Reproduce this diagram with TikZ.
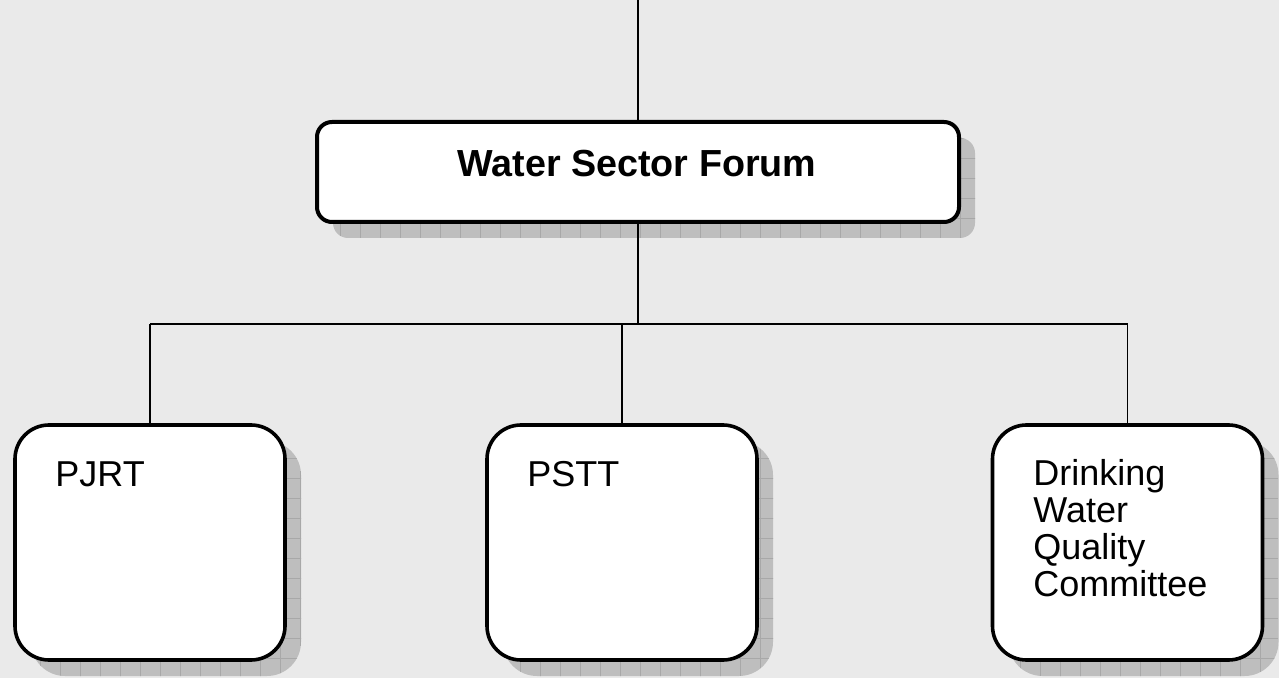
\documentclass[tikz,border=0pt]{standalone}
\usepackage{fontspec}
\setmainfont{Liberation Sans}
\usetikzlibrary{positioning,shadows,patterns.meta}
\definecolor{PageGray}{RGB}{234,234,234}
\definecolor{ShadowGray}{RGB}{190,190,190}
\definecolor{GridGray}{RGB}{168,168,168}

\begin{document}
\begin{tikzpicture}[x=0.5pt,y=0.5pt,yscale=-1,xscale=1,
		boxshadow/.style={drop shadow={shadow xshift=8pt, shadow yshift=-8pt, fill=ShadowGray, opacity=1,
			postaction={pattern={Lines[distance=10pt, angle=0, line width=0.4pt]}, pattern color=GridGray},
			postaction={pattern={Lines[distance=10pt, angle=90, line width=0.4pt]}, pattern color=GridGray}}},
		forumbox/.style={draw=black, line width=2pt, fill=white, rounded corners=7.5pt, minimum width=321pt, minimum height=50pt, inner sep=0pt, boxshadow},
		unitbox/.style={draw=black, line width=1.8pt, fill=white, rounded corners=17pt, minimum width=135pt, minimum height=117.5pt, inner sep=0pt, boxshadow},
		wire/.style={draw=black, line width=0.9pt},
		boldlabel/.style={inner sep=0pt, font=\fontsize{18.85}{22}\selectfont\bfseries},
		plainlabel/.style={inner sep=0pt, font=\fontsize{18}{18.5}\selectfont, align=left}]
		% page background, sets the picture size
		\fill[PageGray] (0,0) rectangle (1279,678);
		\useasboundingbox (0,0) rectangle (1279,678);

		% the boxes
		\node[forumbox] (forum) at (638,172) {};
		\node[unitbox] (pjrt) at (150,542.5) {};
		\node[unitbox] (pstt) at (622,542.5) {};
		\node[unitbox] (dwqc) at (1127.5,542.5) {};

		% their texts
		\node[boldlabel, anchor=base] (forumtext) at (637,177) {Water Sector Forum};
		\node[plainlabel, anchor=base west] (pjrttext) at (55,486) {PJRT};
		\node[plainlabel, anchor=base west] (psttext) at (527,486) {PSTT};
		\node[plainlabel, anchor=north west] (dwqctext) at (1033,459) {Drinking\\Water\\Quality\\Committee};

		% connectors
		\coordinate (feed) at (638,0);
		\coordinate (bus) at (638,324);
		\draw[wire] (feed) -- (forum.north);
		\draw[wire] (forum.south) -- (bus);
		\draw[wire] (pjrt.north |- bus) -- (dwqc.north |- bus);
		\draw[wire] (pjrt.north |- bus) -- (pjrt.north);
		\draw[wire] (pstt.north |- bus) -- (pstt.north);
		\draw[wire] (dwqc.north |- bus) -- (dwqc.north);
	\end{tikzpicture}
\end{document}
